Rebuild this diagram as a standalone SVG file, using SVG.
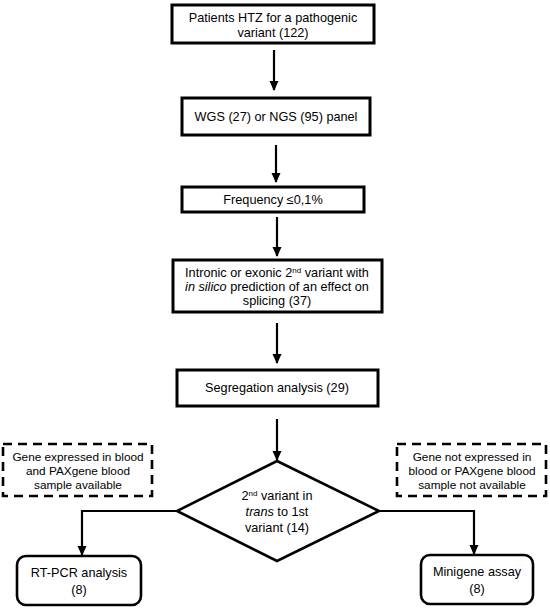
<svg xmlns="http://www.w3.org/2000/svg" width="550" height="610" viewBox="0 0 550 610">
<defs>
<marker id="ah" markerUnits="userSpaceOnUse" markerWidth="10" markerHeight="10" viewBox="0 0 10 10" refX="9" refY="5" orient="auto">
<path d="M0,0.5 L10,5 L0,9.5 Z" fill="#000"/>
</marker>
<style>
.box{fill:#fff;stroke:#000;stroke-width:3}
.rbox{fill:#fff;stroke:#000;stroke-width:2.6}
.dash{fill:#fff;stroke:#000;stroke-width:2.6;stroke-dasharray:9,6}
.dia{fill:#fff;stroke:#000;stroke-width:2.6}
.t{font-family:"Liberation Sans",Arial,sans-serif;font-size:12.7px;fill:#000;text-anchor:middle}
.ts{font-family:"Liberation Sans",Arial,sans-serif;font-size:11.8px;fill:#000;text-anchor:middle}
.sup{font-size:8px}
.c{fill:none;stroke:#000;stroke-width:2.2;marker-end:url(#ah)}
</style>
</defs>
<g id="n1">
<rect class="box" x="172" y="5" width="202" height="38"/>
<text class="t" x="273" y="22">Patients HTZ  for a pathogenic</text>
<text class="t" x="273" y="37">variant (122)</text>
</g>
<g id="n2">
<rect class="box" x="182" y="98" width="188" height="37"/>
<text class="t" x="276" y="121">WGS (27) or NGS (95) panel</text>
</g>
<g id="n3">
<rect class="box" x="182" y="187" width="182" height="25"/>
<text class="t" x="273" y="204">Frequency ≤0,1%</text>
</g>
<g id="n4">
<rect class="box" x="173" y="260" width="209" height="52"/>
<text class="t" x="277" y="277">Intronic or exonic  2<tspan class="sup" dy="-4.5">nd</tspan><tspan dy="4.5"> variant with</tspan></text>
<text class="t" x="277" y="291"><tspan font-style="italic">in silico</tspan> prediction of an effect on</text>
<text class="t" x="277" y="305">splicing (37)</text>
</g>
<g id="n5">
<rect class="box" x="177" y="370" width="201" height="36"/>
<text class="t" x="277" y="392">Segregation analysis (29)</text>
</g>
<g id="n6">
<polygon class="dia" points="277,461 379,511 277,561 177,511"/>
<text class="t" x="277" y="500">2<tspan class="sup" dy="-4.5">nd</tspan><tspan dy="4.5"> variant in</tspan></text>
<text class="t" x="277" y="516"><tspan font-style="italic">trans</tspan> to 1st</text>
<text class="t" x="277" y="532">variant (14)</text>
</g>
<g id="n7">
<rect class="dash" x="3" y="444" width="149" height="52"/>
<text class="ts" x="78" y="461">Gene expressed in blood</text>
<text class="ts" x="78" y="475">and PAXgene blood</text>
<text class="ts" x="78" y="489">sample available</text>
</g>
<g id="n8">
<rect class="dash" x="397" y="444" width="149" height="52"/>
<text class="ts" x="472" y="461">Gene not expressed in</text>
<text class="ts" x="472" y="475">blood or PAXgene blood</text>
<text class="ts" x="472" y="489">sample not available</text>
</g>
<g id="n9">
<rect class="rbox" x="17" y="556" width="124" height="49" rx="9"/>
<text class="t" x="79" y="577">RT-PCR analysis</text>
<text class="t" x="79" y="594">(8)</text>
</g>
<g id="n10">
<rect class="rbox" x="421" y="555" width="112" height="49" rx="9"/>
<text class="t" x="477" y="576">Minigene assay</text>
<text class="t" x="477" y="593">(8)</text>
</g>
<g id="connectors">
<path class="c" d="M274,50 V90"/>
<path class="c" d="M276,145 V182"/>
<path class="c" d="M277,217 V256"/>
<path class="c" d="M277,323 V363"/>
<path class="c" d="M277,419 V460"/>
<path class="c" d="M177,511 H82 V555"/>
<path class="c" d="M379,511 H474 V554"/>
</g>
</svg>
